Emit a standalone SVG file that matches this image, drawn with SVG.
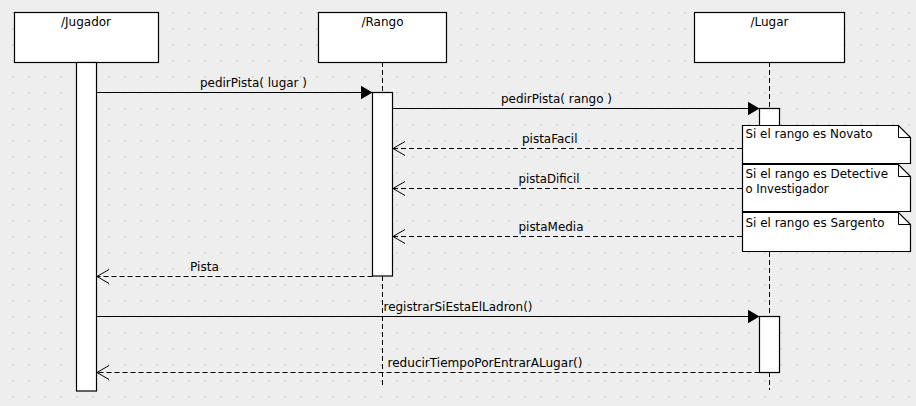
<svg xmlns="http://www.w3.org/2000/svg" width="916" height="406" viewBox="0 0 916 406">
<defs>
<pattern id="grid" x="12" y="12" width="16" height="16" patternUnits="userSpaceOnUse">
<rect x="0" y="0" width="2" height="1.5" fill="#d2d2d2"/>
</pattern>
<marker id="filled" markerWidth="13" markerHeight="15" refX="12" refY="7" orient="auto" markerUnits="userSpaceOnUse">
<path d="M0,0 L12,7 L0,14 Z" fill="#000"/>
</marker>
<marker id="open" markerWidth="14" markerHeight="16" refX="13" refY="7.5" orient="auto" markerUnits="userSpaceOnUse">
<path d="M1,0.5 L13,7.5 L1,14.5" fill="none" stroke="#000" stroke-width="1"/>
</marker>
</defs>
<style>
.box{fill:#fff;stroke:#000;stroke-width:1.2}
.act{fill:#fff;stroke:#000;stroke-width:1.2}
.life{stroke:#000;stroke-width:1;stroke-dasharray:5,3;fill:none}
.msg{stroke:#000;stroke-width:1;fill:none}
.ret{stroke:#000;stroke-width:1;fill:none;stroke-dasharray:5,3}
.note{fill:#fff;stroke:#000;stroke-width:1.2}
text{font-family:"DejaVu Sans","Liberation Sans",sans-serif;font-size:12px;fill:#000}
.c{text-anchor:middle}
</style>
<rect width="916" height="406" fill="#eeeeee"/>
<rect width="916" height="406" fill="url(#grid)"/>

<g id="lifelines">
<line class="life" x1="382.5" y1="62" x2="382.5" y2="92"/>
<line class="life" x1="382.5" y1="276" x2="382.5" y2="388"/>
<line class="life" x1="769.5" y1="62" x2="769.5" y2="108"/>
<line class="life" x1="769.5" y1="236" x2="769.5" y2="316"/>
<line class="life" x1="769.5" y1="372" x2="769.5" y2="390"/>
</g>

<g id="Jugador">
<rect class="box" x="14.5" y="12.5" width="144" height="50"/>
<text class="c" x="86" y="26">/Jugador</text>
<rect class="act" x="76.5" y="62.5" width="20" height="328.5"/>
</g>

<g id="Rango">
<rect class="box" x="318.5" y="12.5" width="128" height="50"/>
<text class="c" x="382.5" y="26">/Rango</text>
<rect class="act" x="372.5" y="92.5" width="20" height="183.5"/>
</g>

<g id="Lugar">
<rect class="box" x="694.5" y="12.5" width="150" height="50"/>
<text class="c" x="769.5" y="26">/Lugar</text>
<rect class="act" x="759.5" y="108.5" width="20" height="128"/>
<rect class="act" x="759.5" y="316.5" width="20" height="56"/>
</g>

<g id="connectors">
<line class="msg" x1="96.5" y1="92.5" x2="372.5" y2="92.5" marker-end="url(#filled)"/>
<text x="200" y="87" textLength="107" lengthAdjust="spacingAndGlyphs">pedirPista( lugar )</text>
<line class="msg" x1="392.5" y1="108.5" x2="759.5" y2="108.5" marker-end="url(#filled)"/>
<text x="501" y="103" textLength="111" lengthAdjust="spacingAndGlyphs">pedirPista( rango )</text>
<line class="ret" x1="742" y1="148.5" x2="393" y2="148.5" marker-end="url(#open)"/>
<text x="522" y="142.5" textLength="55.5" lengthAdjust="spacingAndGlyphs">pistaFacil</text>
<line class="ret" x1="742" y1="188.5" x2="393" y2="188.5" marker-end="url(#open)"/>
<text x="518.5" y="183" textLength="61" lengthAdjust="spacingAndGlyphs">pistaDificil</text>
<line class="ret" x1="742" y1="236.5" x2="393" y2="236.5" marker-end="url(#open)"/>
<text x="518.5" y="230.5" textLength="65" lengthAdjust="spacingAndGlyphs">pistaMedia</text>
<line class="ret" x1="372.5" y1="276.5" x2="97" y2="276.5" marker-end="url(#open)"/>
<text x="190" y="270.5" textLength="29" lengthAdjust="spacingAndGlyphs">Pista</text>
<line class="msg" x1="96.5" y1="316.5" x2="759.5" y2="316.5" marker-end="url(#filled)"/>
<text x="383.5" y="311" textLength="149" lengthAdjust="spacingAndGlyphs">registrarSiEstaElLadron()</text>
<line class="ret" x1="759.5" y1="372.5" x2="97" y2="372.5" marker-end="url(#open)"/>
<text x="387.5" y="366.5" textLength="195" lengthAdjust="spacingAndGlyphs">reducirTiempoPorEntrarALugar()</text>
</g>

<g id="note1">
<path class="note" d="M742.5,125.5 H898.5 L910.5,137.5 V163.5 H742.5 Z"/>
<path class="msg" d="M898.5,125.5 V137.5 H910.5"/>
<text x="745.5" y="138" textLength="127" lengthAdjust="spacingAndGlyphs">Si el rango es Novato</text>
</g>
<g id="note2">
<path class="note" d="M742.5,164.5 H898.5 L910.5,176.5 V211.5 H742.5 Z"/>
<path class="msg" d="M898.5,164.5 V176.5 H910.5"/>
<text x="745.5" y="178" textLength="142.5" lengthAdjust="spacingAndGlyphs">Si el rango es Detective</text>
<text x="745.5" y="193" textLength="83" lengthAdjust="spacingAndGlyphs">o Investigador</text>
</g>
<g id="note3">
<path class="note" d="M742.5,212.5 H898.5 L910.5,224.5 V251.5 H742.5 Z"/>
<path class="msg" d="M898.5,212.5 V224.5 H910.5"/>
<text x="745.5" y="227" textLength="139" lengthAdjust="spacingAndGlyphs">Si el rango es Sargento</text>
</g>
</svg>
